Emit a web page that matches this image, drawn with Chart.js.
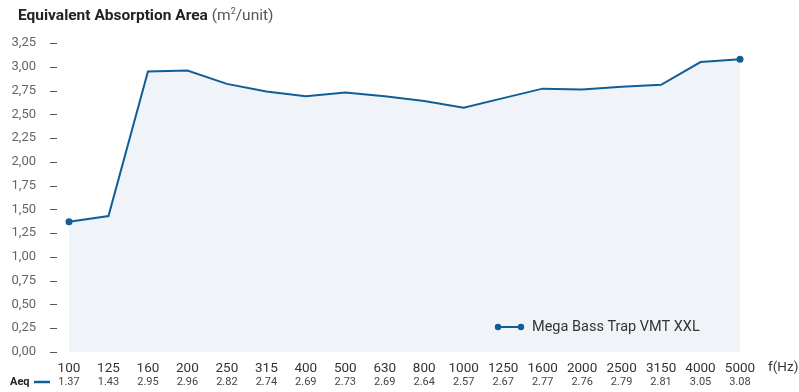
<!DOCTYPE html>
<html>
<head>
<meta charset="utf-8">
<script src="https://cdn.jsdelivr.net/npm/chart.js@4"></script>
<style>
  html, body { margin: 0; padding: 0; background: #fff; }
  .wrap { position: relative; width: 799px; height: 392px; }
  canvas { display: block; }
  .title {
    position: absolute; left: 18px; top: 6px;
    font-family: Roboto, sans-serif; font-size: 15.5px; color: #222;
  }
  .title b { font-weight: 700; }
  .title span { color: #555; }
</style>
</head>
<body>
<div class="wrap">
  <div class="title"><b>Equivalent Absorption Area</b> <span>(m<sup style="font-size:9px">2</sup>/unit)</span></div>
  <canvas id="chart" width="799" height="392"></canvas>
</div>
<script>
const frequencies = ["100", "125", "160", "200", "250", "315", "400", "500", "630", "800",
  "1000", "1250", "1600", "2000", "2500", "3150", "4000", "5000"];
const aeqValues = [1.37, 1.43, 2.95, 2.96, 2.82, 2.74, 2.69, 2.73, 2.69, 2.64,
  2.57, 2.67, 2.77, 2.76, 2.79, 2.81, 3.05, 3.08];
const seriesName = "Mega Bass Trap VMT XXL";

const LINE = "#115e96";
const FONT = "Roboto, sans-serif";

// dashes next to y labels, the Aeq value row, f(Hz) and the legend
const extras = {
  id: "extras",
  afterDraw(chart) {
    const ctx = chart.ctx;
    const y = chart.scales.y;
    const x = chart.scales.x;
    ctx.save();

    ctx.strokeStyle = "#555";
    ctx.lineWidth = 1;
    y.ticks.forEach((t) => {
      const py = Math.round(y.getPixelForValue(t.value)) + 0.5;
      ctx.beginPath();
      ctx.moveTo(50, py);
      ctx.lineTo(57, py);
      ctx.stroke();
    });

    ctx.font = "13.5px " + FONT;
    ctx.fillStyle = "#333";
    ctx.textAlign = "left";
    ctx.textBaseline = "middle";
    ctx.fillText("f(Hz)", 768, 368);

    ctx.font = "bold 11px " + FONT;
    ctx.fillStyle = "#222";
    ctx.fillText("Aeq", 10, 382);
    ctx.strokeStyle = LINE;
    ctx.lineWidth = 2.5;
    ctx.beginPath();
    ctx.moveTo(34, 382);
    ctx.lineTo(50, 382);
    ctx.stroke();

    ctx.font = "11px " + FONT;
    ctx.fillStyle = "#444";
    ctx.textAlign = "center";
    aeqValues.forEach((v, i) => {
      ctx.fillText(v.toFixed(2), x.getPixelForValue(i), 382);
    });

    // legend
    const ly = 327;
    ctx.strokeStyle = LINE;
    ctx.lineWidth = 2;
    ctx.beginPath();
    ctx.moveTo(498, ly);
    ctx.lineTo(521, ly);
    ctx.stroke();
    ctx.fillStyle = LINE;
    [498, 521].forEach((cx) => {
      ctx.beginPath();
      ctx.arc(cx, ly, 3.2, 0, Math.PI * 2);
      ctx.fill();
    });
    ctx.font = "14.5px " + FONT;
    ctx.fillStyle = "#333";
    ctx.textAlign = "left";
    ctx.fillText(seriesName, 532, ly);

    ctx.restore();
  },
};

new Chart(document.getElementById("chart"), {
  type: "line",
  data: {
    labels: frequencies,
    datasets: [{
      label: seriesName,
      data: aeqValues,
      borderColor: LINE,
      borderWidth: 2,
      backgroundColor: "#f0f4f8",
      fill: "origin",
      tension: 0,
      pointRadius: aeqValues.map((v, i) => (i === 0 || i === aeqValues.length - 1 ? 3.5 : 0)),
      pointBackgroundColor: LINE,
      pointBorderWidth: 0,
    }],
  },
  options: {
    responsive: false,
    animation: false,
    layout: { padding: { top: 43, right: 59, bottom: 0, left: 0 } },
    plugins: { legend: { display: false }, tooltip: { enabled: false } },
    scales: {
      x: {
        offset: false,
        grid: { display: false },
        border: { display: false },
        ticks: {
          padding: 1,
          maxRotation: 0,
          autoSkip: false,
          color: "#333",
          font: { family: FONT, size: 13.5 },
        },
        afterFit(s) { s.height = 40; },
      },
      y: {
        min: 0,
        max: 3.25,
        grid: { display: false },
        border: { display: false },
        ticks: {
          stepSize: 0.25,
          padding: 25,
          color: "#666",
          font: { family: FONT, size: 13 },
          callback: (v) => v.toFixed(2).replace(".", ","),
        },
        afterFit(s) { s.width = 69; },
      },
    },
  },
  plugins: [extras],
});
</script>
</body>
</html>
